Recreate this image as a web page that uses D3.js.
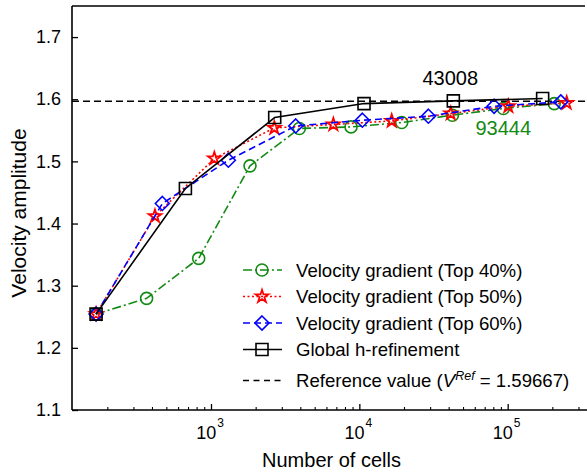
<!DOCTYPE html>
<html>
<head>
<meta charset="utf-8">
<script src="https://cdn.jsdelivr.net/npm/d3@7"></script>
<style>
  html, body { margin: 0; padding: 0; background: #fff; }
  svg { display: block; font-family: "Liberation Sans", Arial, sans-serif; }
</style>
</head>
<body>
<svg id="chart" width="587" height="475"></svg>
<script>
// ---- data ----
const cells40 = [168, 368, 826, 1832, 3940, 8790, 19300, 42400, 93444, 206000];
const vel40   = [1.2543, 1.2796, 1.3439, 1.4928, 1.5529, 1.5555, 1.5625, 1.5743, 1.5850, 1.5930];

const cells50 = [168, 419, 1053, 2672, 6680, 16530, 41300, 101000, 250000];
const vel50   = [1.2543, 1.4119, 1.5046, 1.5539, 1.5593, 1.5651, 1.5770, 1.5887, 1.5940];

const cells60 = [168, 470, 1309, 3725, 10480, 29200, 81000, 228000];
const vel60   = [1.2543, 1.4323, 1.5019, 1.5570, 1.5662, 1.5727, 1.5887, 1.5957];

const cellsGlobal = [168, 672, 2688, 10752, 43008, 172032];
const velGlobal   = [1.2543, 1.4564, 1.5706, 1.5930, 1.5973, 1.6011];

const refValue = 1.59667;

const yTicks = [1.1, 1.2, 1.3, 1.4, 1.5, 1.6, 1.7];
const yTickLabels = ["1.1", "1.2", "1.3", "1.4", "1.5", "1.6", "1.7"];
const xMajorTicks = [1e3, 1e4, 1e5];
const xMajorExp = ["3", "4", "5"];

const seriesNames = [
  "Velocity gradient (Top 40%)",
  "Velocity gradient (Top 50%)",
  "Velocity gradient (Top 60%)",
  "Global h-refinement"
];
const annotations = [
  { text: "43008", cells: 43008, color: "#000000" },
  { text: "93444", cells: 93444, color: "#138a13" }
];

// ---- layout ----
const svg = d3.select("#chart");
const M = { left: 72, top: 6, bottom: 410, right: 587 };

const x = d3.scaleLog().domain([115.6, 342500]).range([M.left, M.right]);
const y = d3.scaleLinear().domain([1.1, 1.75]).range([M.bottom, M.top]);

const series = [
  { name: seriesNames[0], cells: cells40, vel: vel40, color: "#138a13", dash: "9,3,2,3", marker: "circle" },
  { name: seriesNames[1], cells: cells50, vel: vel50, color: "#ff0000", dash: "2,2.5", marker: "star" },
  { name: seriesNames[2], cells: cells60, vel: vel60, color: "#0000ff", dash: "7,4", marker: "diamond" },
  { name: seriesNames[3], cells: cellsGlobal, vel: velGlobal, color: "#000000", dash: null, marker: "square" }
];

function markerPath(type) {
  if (type === "circle") return d3.symbol().type(d3.symbolCircle).size(Math.PI * 6 * 6)();
  if (type === "square") return d3.symbol().type(d3.symbolSquare).size(12 * 12)();
  if (type === "diamond") {
    const r = 7;
    return `M0,${-r}L${r},0L0,${r}L${-r},0Z`;
  }
  if (type === "star") return d3.symbol().type(d3.symbolStar).size(50)();
}

// ---- axes frame ----
const frame = svg.append("g").attr("stroke", "#000").attr("stroke-width", 1.6).attr("fill", "none");
frame.append("line").attr("x1", M.left).attr("x2", M.left).attr("y1", M.top).attr("y2", M.bottom);
frame.append("line").attr("x1", M.left).attr("x2", 585).attr("y1", M.top).attr("y2", M.top);
frame.append("line").attr("x1", M.left).attr("x2", M.right).attr("y1", M.bottom).attr("y2", M.bottom);

// y ticks (inward)
const yAxis = d3.axisLeft(y).tickValues(yTicks).tickSize(-6).tickPadding(11)
  .tickFormat((d, i) => yTickLabels[i]);
const gy = svg.append("g").attr("transform", `translate(${M.left},0)`).call(yAxis);
gy.select(".domain").remove();
gy.selectAll(".tick line").attr("stroke", "#000").attr("stroke-width", 1.3);
gy.selectAll(".tick text").attr("font-size", 18).attr("fill", "#000")
  .attr("font-family", "Liberation Sans, Arial, sans-serif");

// x minor ticks
const xMinor = [];
[100, 1000, 10000, 100000].forEach(dec => {
  for (let k = 2; k <= 9; k++) {
    const v = dec * k;
    if (v > x.domain()[0] && v < x.domain()[1]) xMinor.push(v);
  }
});
const xAxisMinor = d3.axisBottom(x).tickValues(xMinor).tickSize(-3).tickFormat("");
const gxm = svg.append("g").attr("transform", `translate(0,${M.bottom})`).call(xAxisMinor);
gxm.select(".domain").remove();
gxm.selectAll(".tick line").attr("stroke", "#000").attr("stroke-width", 1.1);

const xAxisMajor = d3.axisBottom(x).tickValues(xMajorTicks).tickSize(-6).tickFormat("");
const gx = svg.append("g").attr("transform", `translate(0,${M.bottom})`).call(xAxisMajor);
gx.select(".domain").remove();
gx.selectAll(".tick line").attr("stroke", "#000").attr("stroke-width", 1.3);

// x major labels with superscript
const xl = svg.append("g");
xMajorTicks.forEach((v, i) => {
  const t = xl.append("text").attr("x", x(v) - 1).attr("y", 439)
    .attr("text-anchor", "middle").attr("font-size", 18).attr("fill", "#000");
  t.append("tspan").text("10");
  t.append("tspan").attr("font-size", 12).attr("dy", -12).attr("dx", 1).text(xMajorExp[i]);
});

// axis titles
svg.append("text").attr("x", 331.5).attr("y", 467).attr("text-anchor", "middle")
  .attr("font-size", 20).attr("fill", "#000").text("Number of cells");
svg.append("text").attr("transform", "translate(26,213) rotate(-90)").attr("text-anchor", "middle")
  .attr("font-size", 21).attr("fill", "#000").text("Velocity amplitude");

// reference line
svg.append("line").attr("x1", M.left).attr("x2", M.right)
  .attr("y1", y(refValue)).attr("y2", y(refValue))
  .attr("stroke", "#000").attr("stroke-width", 1.6).attr("stroke-dasharray", "7,4");

// series
const line = d3.line().x(d => x(d[0])).y(d => y(d[1]));
series.forEach(s => {
  const pts = s.cells.map((c, i) => [c, s.vel[i]]);
  const g = svg.append("g");
  g.append("path").attr("d", line(pts)).attr("fill", "none")
    .attr("stroke", s.color).attr("stroke-width", 1.6)
    .attr("stroke-dasharray", s.dash);
  g.selectAll("path.m").data(pts).enter().append("path").attr("class", "m")
    .attr("d", markerPath(s.marker))
    .attr("transform", d => `translate(${x(d[0])},${y(d[1])})`)
    .attr("fill", "none").attr("stroke", s.color)
    .attr("stroke-width", s.marker === "star" ? 1.8 : 1.6);
});

// annotations
svg.append("text").attr("x", x(annotations[0].cells) - 3).attr("y", 85).attr("text-anchor", "middle")
  .attr("font-size", 20).attr("fill", annotations[0].color).text(annotations[0].text);
svg.append("text").attr("x", x(annotations[1].cells)).attr("y", 135).attr("text-anchor", "middle")
  .attr("font-size", 20).attr("fill", annotations[1].color).text(annotations[1].text);

// legend
const legRows = [270, 296.5, 323, 349.5, 380.5];
const leg = svg.append("g");
series.forEach((s, i) => {
  const yy = legRows[i];
  leg.append("line").attr("x1", 243).attr("x2", 282).attr("y1", yy).attr("y2", yy)
    .attr("stroke", s.color).attr("stroke-width", 1.6).attr("stroke-dasharray", s.dash);
  leg.append("path").attr("d", markerPath(s.marker)).attr("transform", `translate(262,${yy})`)
    .attr("fill", "none").attr("stroke", s.color)
    .attr("stroke-width", s.marker === "star" ? 1.8 : 1.6);
  leg.append("text").attr("x", 296).attr("y", yy).attr("dy", "0.36em")
    .attr("font-size", 18.6).attr("fill", "#000").text(s.name);
});
{
  const yy = legRows[4];
  leg.append("line").attr("x1", 243).attr("x2", 282).attr("y1", yy).attr("y2", yy)
    .attr("stroke", "#000").attr("stroke-width", 1.6).attr("stroke-dasharray", "6,4.5");
  const t = leg.append("text").attr("x", 296).attr("y", yy).attr("dy", "0.36em")
    .attr("font-size", 18.6).attr("fill", "#000");
  t.append("tspan").text("Reference value (");
  t.append("tspan").attr("font-style", "italic").text("V");
  t.append("tspan").attr("font-style", "italic").attr("font-size", 12.5).attr("dy", -7).text("Ref");
  t.append("tspan").attr("dy", 7).text(" = 1.59667)");
}
</script>
</body>
</html>
